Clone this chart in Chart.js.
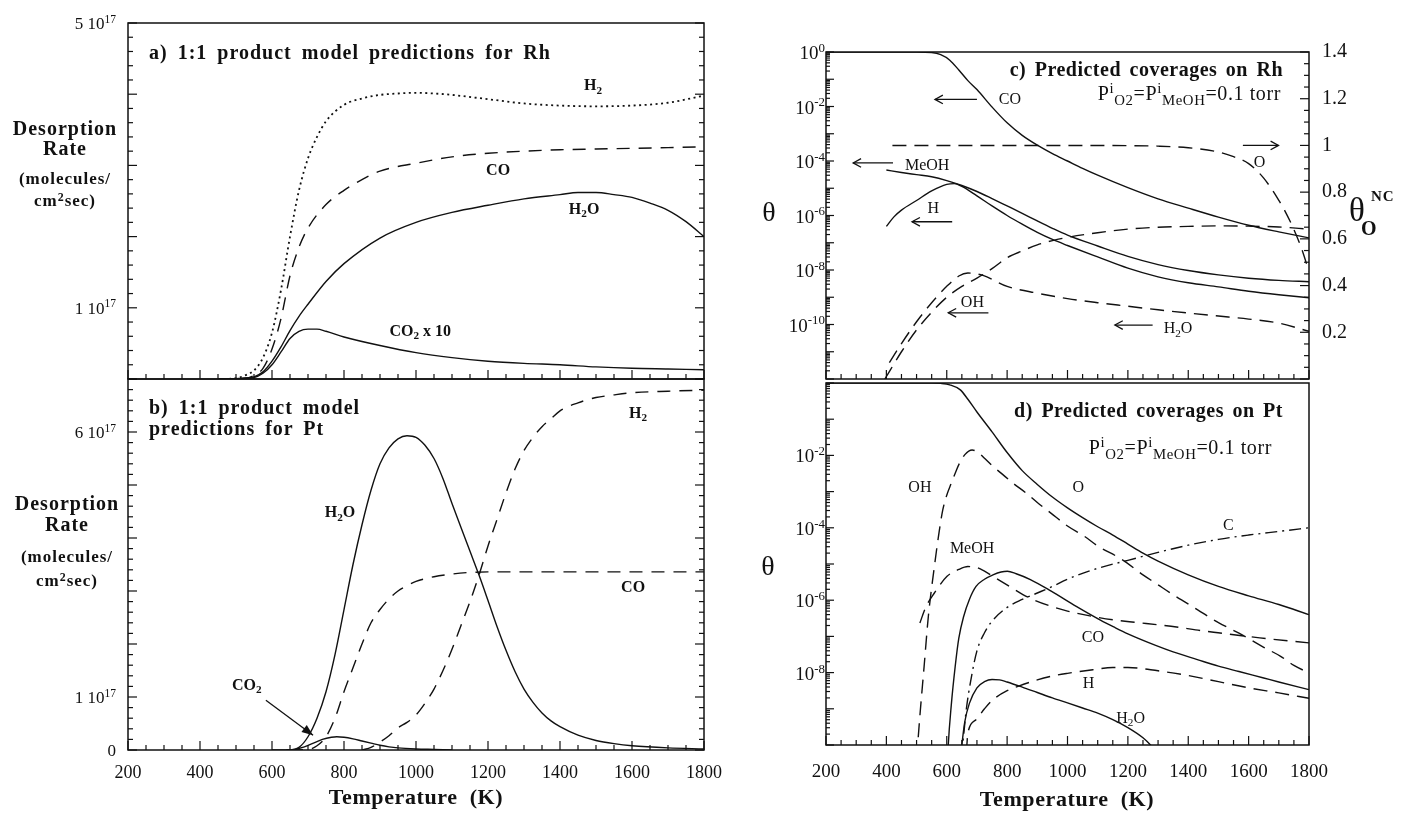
<!DOCTYPE html>
<html><head><meta charset="utf-8">
<script src="https://cdn.jsdelivr.net/npm/chart.js@4.4.0/dist/chart.umd.min.js"></script>
<style>
html,body{margin:0;padding:0;background:#fff;}
body{width:1412px;height:813px;position:relative;overflow:hidden;font-family:"Liberation Serif","Times New Roman",serif;color:#111;}
.wrap{position:absolute;}
.wrap canvas{position:absolute;left:0;top:0;}
.t{position:absolute;white-space:nowrap;line-height:1;}
.c{transform:translate(-50%,-50%);}
.b{font-weight:bold;}
.lbl{position:absolute;white-space:nowrap;line-height:1;transform:translate(-50%,-50%);}
.tk{position:absolute;white-space:nowrap;line-height:1;}
.lb{font-weight:bold;font-size:16px;}
.lr{font-size:16px;}
sub{font-size:70%;vertical-align:baseline;position:relative;top:0.32em;line-height:0;}
sup{font-size:70%;vertical-align:baseline;position:relative;top:-0.45em;line-height:0;}
.tk sup{font-size:68%;top:-0.55em;}
.ttl{font-weight:bold;font-size:20px;letter-spacing:1px;word-spacing:4px;}
.pt{font-size:20px;letter-spacing:0.6px;}
.pt sub,.pt sup{font-size:74%;}
.ax{font-weight:bold;}
</style></head>
<body>
<div class="wrap" style="left:0;top:0;width:760px;height:392px"><canvas id="cA" width="760" height="392"></canvas></div>
<div class="wrap" style="left:0;top:360px;width:760px;height:453px"><canvas id="cB" width="760" height="453"></canvas></div>
<div class="wrap" style="left:770px;top:0;width:642px;height:392px"><canvas id="cC" width="642" height="392"></canvas></div>
<div class="wrap" style="left:770px;top:365px;width:642px;height:448px"><canvas id="cD" width="642" height="448"></canvas></div>

<!-- left axis titles -->
<div class="t c ax" style="left:65px;top:128px;font-size:20px;letter-spacing:1px">Desorption</div>
<div class="t c ax" style="left:65px;top:148px;font-size:20px;letter-spacing:1px">Rate</div>
<div class="t c ax" style="left:65px;top:178px;font-size:17px;letter-spacing:1px">(molecules/</div>
<div class="t c ax" style="left:65px;top:200px;font-size:17px;letter-spacing:1px">cm<sup>2</sup>sec)</div>
<div class="t c ax" style="left:67px;top:503px;font-size:20px;letter-spacing:1px">Desorption</div>
<div class="t c ax" style="left:67px;top:524px;font-size:20px;letter-spacing:1px">Rate</div>
<div class="t c ax" style="left:67px;top:556px;font-size:17px;letter-spacing:1px">(molecules/</div>
<div class="t c ax" style="left:67px;top:580px;font-size:17px;letter-spacing:1px">cm<sup>2</sup>sec)</div>
<div class="t c ax" style="left:416px;top:797px;font-size:22px;letter-spacing:0.6px;word-spacing:6px">Temperature (K)</div>
<div class="t c ax" style="left:1067px;top:799px;font-size:22px;letter-spacing:0.6px;word-spacing:6px">Temperature (K)</div>

<!-- panel titles -->
<div class="t ttl" style="left:149px;top:42px">a) 1:1 product model predictions for Rh</div>
<div class="t ttl" style="left:149px;top:397px;line-height:21px">b) 1:1 product model<br>predictions for Pt</div>
<div class="t ttl" style="right:129px;top:59px;letter-spacing:0.5px;word-spacing:3px">c) Predicted coverages on Rh</div>
<div class="t ttl" style="right:129px;top:400px;letter-spacing:0.5px;word-spacing:3px">d) Predicted coverages on Pt</div>
<div class="t pt" style="right:131px;top:83px">P<sup>i</sup><sub>O2</sub>=P<sup>i</sup><sub>MeOH</sub>=0.1 torr</div>
<div class="t pt" style="right:140px;top:437px">P<sup>i</sup><sub>O2</sub>=P<sup>i</sup><sub>MeOH</sub>=0.1 torr</div>

<!-- theta labels -->
<div class="t c" style="left:769px;top:212px;font-size:28px">θ</div>
<div class="t c" style="left:768px;top:566px;font-size:28px">θ</div>
<div class="t" style="left:1349px;top:194px;font-size:33px">θ</div>
<div class="t b" style="left:1361px;top:218px;font-size:20px">O</div>
<div class="t b" style="left:1371px;top:189px;font-size:15px;letter-spacing:1px">NC</div>

<script>
// ===================== DATA =====================
// Panel a (Rh) — desorption rate in units of 1e17 molecules/cm2 s
const aH2_T  = [450, 500, 525, 550, 575, 600, 625, 650, 675, 700, 725, 750, 800, 850, 900, 950, 1000, 1050, 1100, 1200, 1300, 1400, 1500, 1600, 1700, 1800];
const aH2_V  = [0, 0.01, 0.05, 0.12, 0.3, 0.65, 1.25, 2.0, 2.65, 3.1, 3.4, 3.62, 3.85, 3.94, 3.99, 4.01, 4.02, 4.01, 3.99, 3.93, 3.87, 3.84, 3.83, 3.84, 3.88, 3.98];
const aCO_T  = [450, 525, 550, 575, 600, 625, 650, 675, 700, 750, 800, 850, 900, 1000, 1100, 1200, 1300, 1400, 1500, 1600, 1700, 1800];
const aCO_V  = [0, 0.01, 0.05, 0.15, 0.42, 0.85, 1.45, 1.85, 2.12, 2.45, 2.65, 2.8, 2.92, 3.03, 3.12, 3.17, 3.2, 3.22, 3.23, 3.24, 3.25, 3.26];
const aH2O_T = [450, 525, 550, 575, 600, 625, 650, 675, 700, 750, 800, 900, 1000, 1100, 1200, 1300, 1400, 1450, 1500, 1550, 1600, 1650, 1700, 1750, 1800];
const aH2O_V = [0, 0.01, 0.03, 0.1, 0.25, 0.45, 0.68, 0.88, 1.05, 1.37, 1.62, 1.98, 2.2, 2.34, 2.44, 2.53, 2.59, 2.62, 2.62, 2.59, 2.55, 2.47, 2.37, 2.21, 2.0];
const aCO2x10_T = [450, 525, 550, 575, 600, 625, 650, 675, 700, 725, 750, 800, 900, 1000, 1100, 1200, 1300, 1400, 1500, 1600, 1700, 1800];
const aCO2x10_V = [0, 0.01, 0.02, 0.08, 0.2, 0.38, 0.57, 0.67, 0.7, 0.7, 0.67, 0.59, 0.47, 0.37, 0.3, 0.25, 0.22, 0.2, 0.17, 0.15, 0.14, 0.13];

// Panel b (Pt) — units of 1e17
const bH2O_T = [600, 650, 675, 700, 725, 750, 775, 800, 825, 850, 875, 900, 925, 950, 975, 1000, 1025, 1050, 1075, 1100, 1125, 1150, 1175, 1200, 1225, 1250, 1275, 1300, 1325, 1350, 1375, 1400, 1450, 1500, 1550, 1600, 1700, 1800];
const bH2O_V = [0, 0, 0.05, 0.25, 0.6, 1.1, 1.8, 2.65, 3.5, 4.25, 4.9, 5.4, 5.7, 5.87, 5.93, 5.9, 5.75, 5.5, 5.12, 4.65, 4.2, 3.75, 3.3, 2.82, 2.33, 1.88, 1.48, 1.15, 0.9, 0.7, 0.55, 0.44, 0.28, 0.18, 0.12, 0.08, 0.04, 0.02];
const bCO_T  = [650, 700, 725, 750, 775, 800, 825, 850, 875, 900, 925, 950, 975, 1000, 1050, 1100, 1150, 1200, 1400, 1600, 1800];
const bCO_V  = [0, 0.01, 0.08, 0.25, 0.6, 1.1, 1.55, 2.0, 2.4, 2.65, 2.85, 3.0, 3.1, 3.18, 3.27, 3.32, 3.35, 3.36, 3.36, 3.36, 3.36];
const bH2_T  = [850, 875, 900, 925, 950, 975, 1000, 1025, 1050, 1075, 1100, 1125, 1150, 1175, 1200, 1225, 1250, 1275, 1300, 1325, 1350, 1375, 1400, 1450, 1500, 1550, 1600, 1700, 1800];
const bH2_V  = [0, 0.05, 0.15, 0.27, 0.42, 0.52, 0.66, 0.88, 1.15, 1.5, 1.9, 2.35, 2.8, 3.3, 3.85, 4.35, 4.85, 5.3, 5.65, 5.9, 6.1, 6.25, 6.4, 6.55, 6.65, 6.7, 6.74, 6.77, 6.79];
const bCO2_T = [640, 660, 690, 715, 740, 765, 780, 800, 825, 850, 875, 900, 925, 950, 1000, 1050, 1100];
const bCO2_V = [0, 0.01, 0.06, 0.13, 0.2, 0.24, 0.25, 0.24, 0.21, 0.17, 0.13, 0.09, 0.06, 0.04, 0.02, 0.01, 0];

// Panel c (Rh) — coverages (left, log) and theta_O^NC (right, linear)
const cCO_T   = [200, 500, 550, 580, 610, 640, 670, 700, 750, 800, 850, 900, 950, 1000, 1050, 1100, 1200, 1300, 1400, 1500, 1600, 1700, 1800];
const cCO_V   = [1, 1, 0.955, 0.794, 0.501, 0.219, 0.0891, 0.0417, 9.55e-3, 2.51e-3, 8.71e-4, 3.80e-4, 1.86e-4, 1e-4, 5.37e-5, 3.02e-5, 1.05e-5, 4.07e-6, 1.86e-6, 8.71e-7, 4.37e-7, 2.51e-7, 1.51e-7];
const cMeOH_T = [400, 450, 500, 550, 600, 650, 700, 750, 800, 850, 900, 950, 1000, 1100, 1200, 1300, 1400, 1500, 1600, 1700, 1800];
const cMeOH_V = [4.68e-5, 3.80e-5, 3.16e-5, 2.63e-5, 1.91e-5, 1.26e-5, 7.59e-6, 4.17e-6, 2.24e-6, 1.20e-6, 6.31e-7, 3.39e-7, 1.91e-7, 7.59e-8, 3.16e-8, 1.58e-8, 9.55e-9, 6.61e-9, 5.01e-9, 4.17e-9, 3.72e-9];
const cH_T    = [400, 425, 450, 500, 550, 600, 625, 650, 700, 750, 800, 850, 900, 950, 1000, 1100, 1200, 1300, 1400, 1500, 1600, 1700, 1800];
const cH_V    = [3.98e-7, 8.91e-7, 1.58e-6, 3.55e-6, 7.94e-6, 1.38e-5, 1.48e-5, 1.17e-5, 5.25e-6, 2.24e-6, 1e-6, 4.79e-7, 2.40e-7, 1.32e-7, 7.94e-8, 3.02e-8, 1.17e-8, 5.62e-9, 3.39e-9, 2.40e-9, 1.66e-9, 1.23e-9, 9.55e-10];
const cH2O_T  = [410, 450, 500, 550, 600, 640, 670, 720, 800, 900, 1000, 1100, 1200, 1300, 1400, 1500, 1600, 1700, 1800];
const cH2O_V  = [3.98e-12, 2.0e-11, 1.26e-10, 6.31e-10, 2.51e-9, 6.03e-9, 7.76e-9, 6.31e-9, 2.51e-9, 1.41e-9, 8.91e-10, 6.31e-10, 4.68e-10, 3.47e-10, 2.63e-10, 2.04e-10, 1.58e-10, 1.12e-10, 5.62e-11];
const cOH_T   = [395, 450, 500, 550, 600, 650, 700, 750, 800, 850, 900, 950, 1000, 1100, 1200, 1300, 1400, 1500, 1600, 1700, 1800];
const cOH_V   = [1e-12, 1e-11, 6.31e-11, 2.82e-10, 1e-9, 2.51e-9, 5.01e-9, 1.12e-8, 2.82e-8, 5.01e-8, 8.32e-8, 1.20e-7, 1.58e-7, 2.34e-7, 3.16e-7, 3.72e-7, 3.98e-7, 4.17e-7, 4.07e-7, 3.80e-7, 3.16e-7];
const cO_T    = [420, 600, 800, 1000, 1200, 1300, 1400, 1500, 1550, 1600, 1650, 1700, 1720, 1750, 1775, 1800];
const cO_V    = [1.0, 1.0, 1.0, 1.0, 0.999, 0.997, 0.99, 0.972, 0.952, 0.922, 0.86, 0.765, 0.72, 0.64, 0.56, 0.46];

// Panel d (Pt) — coverages (log)
const dO_T    = [200, 550, 580, 610, 645, 670, 700, 750, 800, 850, 900, 950, 1000, 1050, 1100, 1150, 1200, 1250, 1300, 1400, 1500, 1600, 1700, 1800];
const dO_V    = [1, 1, 0.977, 0.891, 0.646, 0.355, 0.158, 0.0447, 0.0120, 3.80e-3, 1.58e-3, 7.08e-4, 3.55e-4, 1.91e-4, 1.07e-4, 6.31e-5, 3.55e-5, 2.0e-5, 1.20e-5, 5.01e-6, 2.40e-6, 1.32e-6, 7.59e-7, 3.98e-7];
const dOH_T   = [495, 510, 525, 539, 559, 575, 587, 600, 615, 630, 642, 660, 684, 705, 725, 750, 780, 820, 863, 900, 946, 1000, 1057, 1100, 1181, 1250, 1292, 1350, 1430, 1500, 1568, 1650, 1706, 1750, 1800];
const dOH_V   = [1e-11, 5.01e-10, 1.48e-8, 3.55e-7, 8.51e-6, 7.94e-5, 3.16e-4, 7.94e-4, 1.70e-3, 3.55e-3, 6.03e-3, 1.05e-2, 1.41e-2, 1.20e-2, 8.32e-3, 5.25e-3, 3.24e-3, 1.70e-3, 9.12e-4, 5.01e-4, 2.51e-4, 1.12e-4, 5.75e-5, 3.16e-5, 1.32e-5, 5.01e-6, 2.95e-6, 1.41e-6, 5.50e-7, 2.40e-7, 1.23e-7, 5.01e-8, 2.82e-8, 1.58e-8, 9.77e-9];
const dMeOH_T = [511, 530, 559, 601, 640, 670, 700, 725, 760, 808, 870, 946, 1000, 1084, 1150, 1222, 1300, 1361, 1441, 1499, 1637, 1800];
const dMeOH_V = [2.34e-7, 6.31e-7, 1.58e-6, 4.57e-6, 7.08e-6, 8.51e-6, 7.94e-6, 6.31e-6, 4.17e-6, 2.40e-6, 1.20e-6, 6.76e-7, 5.01e-7, 3.55e-7, 2.88e-7, 2.45e-7, 2.09e-7, 1.82e-7, 1.45e-7, 1.26e-7, 9.12e-8, 6.61e-8];
const dCO_T   = [600, 605, 615, 628, 640, 656, 675, 697, 725, 753, 780, 801, 830, 877, 946, 1029, 1109, 1153, 1200, 1292, 1350, 1430, 1500, 1568, 1650, 1700, 1800];
const dCO_V   = [1e-11, 1e-10, 1.26e-9, 1.48e-8, 8.91e-8, 3.55e-7, 1.05e-6, 2.40e-6, 3.80e-6, 5.01e-6, 6.03e-6, 6.31e-6, 5.37e-6, 3.72e-6, 1.78e-6, 6.76e-7, 2.82e-7, 1.82e-7, 1.17e-7, 5.62e-8, 3.72e-8, 2.29e-8, 1.51e-8, 1.07e-8, 7.08e-9, 5.50e-9, 3.39e-9];
const dH_T    = [665, 670, 697, 725, 753, 800, 836, 900, 946, 1000, 1084, 1150, 1200, 1300, 1400, 1500, 1600, 1700, 1800];
const dH_V    = [6.31e-11, 2.14e-10, 5.01e-10, 1e-9, 1.78e-9, 3.16e-9, 4.17e-9, 6.31e-9, 7.94e-9, 9.55e-9, 1.20e-8, 1.38e-8, 1.38e-8, 1.12e-8, 8.32e-9, 5.62e-9, 3.80e-9, 2.75e-9, 1.95e-9];
const dH2O_T  = [638, 650, 660, 675, 700, 725, 750, 775, 800, 850, 900, 950, 1000, 1050, 1100, 1150, 1200, 1250, 1275, 1290];
const dH2O_V  = [1e-11, 1e-10, 4.47e-10, 1.41e-9, 3.80e-9, 5.62e-9, 6.46e-9, 6.31e-9, 5.50e-9, 3.98e-9, 2.82e-9, 2.0e-9, 1.45e-9, 1.05e-9, 7.59e-10, 5.01e-10, 3.02e-10, 1.58e-10, 1e-10, 7.08e-11];
const dC_T    = [640, 645, 655, 665, 680, 700, 725, 750, 800, 850, 900, 950, 1000, 1100, 1200, 1300, 1400, 1500, 1600, 1700, 1800];
const dC_V    = [1e-11, 3.16e-11, 1.58e-10, 1e-9, 6.31e-9, 3.98e-8, 1.26e-7, 2.63e-7, 6.31e-7, 1.05e-6, 1.58e-6, 2.40e-6, 3.80e-6, 7.59e-6, 1.26e-5, 2.09e-5, 3.31e-5, 4.79e-5, 6.31e-5, 7.94e-5, 1e-4];

// Tick labels
const tempTickVals   = [200, 400, 600, 800, 1000, 1200, 1400, 1600, 1800];
const tempTickLabels = ['200', '400', '600', '800', '1000', '1200', '1400', '1600', '1800'];
const aYTickVals   = [1, 5];
const aYTickLabels = ['1 10<sup>17</sup>', '5 10<sup>17</sup>'];
const bYTickVals   = [0, 1, 6];
const bYTickLabels = ['0', '1 10<sup>17</sup>', '6 10<sup>17</sup>'];
const cYTickVals   = [1, 1e-2, 1e-4, 1e-6, 1e-8, 1e-10];
const cYTickLabels = ['10<sup>0</sup>', '10<sup>-2</sup>', '10<sup>-4</sup>', '10<sup>-6</sup>', '10<sup>-8</sup>', '10<sup>-10</sup>'];
const cY2TickVals   = [0.2, 0.4, 0.6, 0.8, 1, 1.2, 1.4];
const cY2TickLabels = ['0.2', '0.4', '0.6', '0.8', '1', '1.2', '1.4'];
const dYTickVals   = [1e-2, 1e-4, 1e-6, 1e-8];
const dYTickLabels = ['10<sup>-2</sup>', '10<sup>-4</sup>', '10<sup>-6</sup>', '10<sup>-8</sup>'];

// ===================== HELPERS =====================
const FONT = '"Liberation Serif", "Times New Roman", serif';
const INK = '#111';
const dashes = { solid: [], dash: [13, 9], dot: [2, 3.5], rdash: [14, 8], dashdot: [12, 5, 2, 5] };

function ds(T, V, style, axis) {
  return {
    data: T.map((t, i) => ({ x: t, y: V[i] })),
    borderColor: INK, borderWidth: style === 'dot' ? 1.8 : 1.4,
    borderDash: dashes[style], pointRadius: 0, fill: false,
    cubicInterpolationMode: 'monotone', yAxisID: axis || 'y'
  };
}
function zeroPad(s) { s.paddingLeft = 0; s.paddingRight = 0; s.paddingTop = 0; s.paddingBottom = 0; }
function xScale(o) {
  return {
    type: 'linear', position: 'bottom', min: 200, max: 1800,
    grid: { display: false, drawTicks: false }, border: { display: false },
    ticks: { display: o.show, autoSkip: false, maxRotation: 0, minRotation: 0, padding: o.pad || 0,
      color: INK, font: { family: FONT, size: o.size || 18 },
      callback: (v, i) => tempTickLabels[i] },
    afterBuildTicks: s => { s.ticks = tempTickVals.map(v => ({ value: v })); },
    afterFit: s => { s.height = o.h; zeroPad(s); }
  };
}
// y scales: tick values come from the arrays; labels with superscripts are placed as HTML text at scale pixels
function yScale(o) {
  return {
    type: o.type || 'linear', position: o.pos || 'left', min: o.min, max: o.max,
    grid: { display: false, drawTicks: false }, border: { display: false },
    ticks: { display: !!o.canvasLabels, autoSkip: false, padding: o.pad || 0, color: INK,
      font: { family: FONT, size: o.size || 18 }, callback: (v, i) => (o.labels ? o.labels[i] : '') },
    afterBuildTicks: s => { s.ticks = o.vals.map(v => ({ value: v })); },
    afterFit: s => { s.width = o.w; zeroPad(s); }
  };
}
function linMarks(lo, n, step, every) {
  const vals = [], major = [];
  for (let i = 0; i <= n; i++) { vals.push(+(lo + i * step).toFixed(6)); major.push(i % every === 0); }
  return { vals, major };
}
function logMarks(loExp, hiExp) {
  const vals = [], major = [];
  for (let e = loExp; e < hiExp; e++) for (let k = 1; k <= 9; k++) { vals.push(k * Math.pow(10, e)); major.push(k === 1); }
  vals.push(Math.pow(10, hiExp)); major.push(true);
  return { vals, major };
}
const xMarks = linMarks(200, 32, 50, 4);

const extras = {};
const panelPlugin = {
  id: 'panelExtras',
  afterDatasetsDraw(chart) {
    const ex = extras[chart.canvas.id]; if (!ex) return;
    const ctx = chart.ctx, a = chart.chartArea;
    ctx.save();
    ctx.setLineDash([]);
    ctx.strokeStyle = INK; ctx.fillStyle = INK;
    ctx.lineWidth = 1.5;
    ctx.strokeRect(a.left, a.top, a.right - a.left, a.bottom - a.top);
    ctx.lineWidth = 1.2;
    ex.marks.forEach(m => {
      const sc = chart.scales[m.scale];
      m.set.vals.forEach((v, i) => {
        const len = m.set.major[i] ? m.maj : m.min;
        const p = sc.getPixelForValue(v);
        ctx.beginPath();
        if (m.side === 'left') { ctx.moveTo(a.left, p); ctx.lineTo(a.left + len, p); }
        else if (m.side === 'right') { ctx.moveTo(a.right, p); ctx.lineTo(a.right - len, p); }
        else { ctx.moveTo(p, a.bottom); ctx.lineTo(p, a.bottom - len); }
        ctx.stroke();
      });
    });
    (ex.arrows || []).forEach(ar => {
      const sx = chart.scales.x, sy = chart.scales[ar.axis || 'y'];
      const x1 = sx.getPixelForValue(ar.x1), y1 = sy.getPixelForValue(ar.y1);
      const x2 = sx.getPixelForValue(ar.x2), y2 = sy.getPixelForValue(ar.y2);
      const ang = Math.atan2(y2 - y1, x2 - x1);
      ctx.lineWidth = 1.3;
      ctx.beginPath(); ctx.moveTo(x1, y1); ctx.lineTo(x2, y2); ctx.stroke();
      const L = ar.filled ? 12 : 9, w = ar.filled ? 0.38 : 0.5;
      const p1 = [x2 - L * Math.cos(ang - w), y2 - L * Math.sin(ang - w)];
      const p2 = [x2 - L * Math.cos(ang + w), y2 - L * Math.sin(ang + w)];
      ctx.beginPath();
      if (ar.filled) { ctx.moveTo(x2, y2); ctx.lineTo(p1[0], p1[1]); ctx.lineTo(p2[0], p2[1]); ctx.closePath(); ctx.fill(); }
      else { ctx.moveTo(p1[0], p1[1]); ctx.lineTo(x2, y2); ctx.lineTo(p2[0], p2[1]); ctx.stroke(); }
    });
    ctx.restore();
  },
  afterDraw(chart) {
    const ex = extras[chart.canvas.id]; if (!ex) return;
    const wrap = chart.canvas.parentNode, a = chart.chartArea;
    (ex.labels || []).forEach(l => {
      if (!l.el) { l.el = document.createElement('div'); l.el.className = 'lbl ' + ex.cls; l.el.innerHTML = l.html; wrap.appendChild(l.el); }
      l.el.style.left = chart.scales.x.getPixelForValue(l.x) + 'px';
      l.el.style.top = chart.scales[l.axis || 'y'].getPixelForValue(l.y) + 'px';
    });
    (ex.yTicks || []).forEach(t => {
      const sc = chart.scales[t.axis];
      t.els = t.els || [];
      t.vals.forEach((v, i) => {
        let el = t.els[i];
        if (!el) { el = document.createElement('div'); el.className = 'tk'; el.style.fontSize = t.size + 'px'; el.innerHTML = t.labels[i]; wrap.appendChild(el); t.els[i] = el; }
        el.style.top = sc.getPixelForValue(v) + 'px';
        el.style.left = (a.left - t.pad) + 'px';
        el.style.transform = 'translate(-100%,-50%)';
      });
    });
  }
};
Chart.register(panelPlugin);

function baseOpts(layoutPad, scales) {
  return {
    responsive: false, animation: false, devicePixelRatio: 1, events: [],
    layout: { padding: layoutPad, autoPadding: false },
    plugins: { legend: { display: false }, tooltip: { enabled: false } },
    scales
  };
}

// ===================== PANEL EXTRAS =====================
extras.cA = {
  cls: 'lb',
  marks: [
    { scale: 'y', side: 'left', set: linMarks(0, 25, 0.2, 5), maj: 9, min: 5 },
    { scale: 'y', side: 'right', set: linMarks(0, 25, 0.2, 5), maj: 9, min: 5 },
    { scale: 'x', side: 'bottom', set: xMarks, maj: 9, min: 5 }
  ],
  yTicks: [ { axis: 'y', vals: aYTickVals, labels: aYTickLabels, size: 17, pad: 12 } ],
  labels: [
    { x: 1492, y: 4.13, html: 'H<sub>2</sub>' },
    { x: 1228, y: 2.93, html: 'CO' },
    { x: 1467, y: 2.39, html: 'H<sub>2</sub>O' },
    { x: 1012, y: 0.68, html: 'CO<sub>2</sub> x 10' }
  ]
};
extras.cB = {
  cls: 'lb',
  marks: [
    { scale: 'y', side: 'left', set: linMarks(0, 35, 0.2, 5), maj: 9, min: 5 },
    { scale: 'y', side: 'right', set: linMarks(0, 35, 0.2, 5), maj: 9, min: 5 },
    { scale: 'x', side: 'bottom', set: xMarks, maj: 9, min: 5 }
  ],
  yTicks: [ { axis: 'y', vals: bYTickVals, labels: bYTickLabels, size: 17, pad: 12 } ],
  arrows: [ { x1: 583, y1: 0.94, x2: 714, y2: 0.28, filled: true } ],
  labels: [
    { x: 789, y: 4.49, html: 'H<sub>2</sub>O' },
    { x: 1603, y: 3.08, html: 'CO' },
    { x: 1617, y: 6.36, html: 'H<sub>2</sub>' },
    { x: 530, y: 1.23, html: 'CO<sub>2</sub>' }
  ]
};
extras.cC = {
  cls: 'lr',
  marks: [
    { scale: 'y', side: 'left', set: logMarks(-12, 0), maj: 8, min: 4 },
    { scale: 'y2', side: 'right', set: linMarks(0, 28, 0.05, 4), maj: 9, min: 5 },
    { scale: 'x', side: 'bottom', set: xMarks, maj: 9, min: 5 }
  ],
  yTicks: [ { axis: 'y', vals: cYTickVals, labels: cYTickLabels, size: 19, pad: 1 } ],
  arrows: [
    { x1: 700, y1: 1.82e-2, x2: 561, y2: 1.82e-2 },
    { x1: 1581, y1: 1.0, x2: 1699, y2: 1.0, axis: 'y2' },
    { x1: 422, y1: 8.51e-5, x2: 290, y2: 8.51e-5 },
    { x1: 618, y1: 5.89e-7, x2: 485, y2: 5.89e-7 },
    { x1: 738, y1: 2.69e-10, x2: 605, y2: 2.69e-10 },
    { x1: 1282, y1: 9.55e-11, x2: 1157, y2: 9.55e-11 }
  ],
  labels: [
    { x: 809, y: 1.82e-2, html: 'CO' },
    { x: 1636, y: 0.93, axis: 'y2', html: 'O' },
    { x: 535, y: 7.08e-5, html: 'MeOH' },
    { x: 555, y: 1.82e-6, html: 'H' },
    { x: 685, y: 6.76e-10, html: 'OH' },
    { x: 1366, y: 7.24e-11, html: 'H<sub>2</sub>O' }
  ]
};
extras.cD = {
  cls: 'lr',
  marks: [
    { scale: 'y', side: 'left', set: logMarks(-10, 0), maj: 8, min: 4 },
    { scale: 'x', side: 'bottom', set: xMarks, maj: 9, min: 5 }
  ],
  yTicks: [ { axis: 'y', vals: dYTickVals, labels: dYTickLabels, size: 19, pad: 1 } ],
  labels: [
    { x: 511, y: 1.38e-3, html: 'OH' },
    { x: 1036, y: 1.38e-3, html: 'O' },
    { x: 1533, y: 1.20e-4, html: 'C' },
    { x: 684, y: 2.75e-5, html: 'MeOH' },
    { x: 1084, y: 9.55e-8, html: 'CO' },
    { x: 1070, y: 5.25e-9, html: 'H' },
    { x: 1209, y: 5.62e-10, html: 'H<sub>2</sub>O' }
  ]
};

// ===================== CHARTS =====================
new Chart(document.getElementById('cA'), {
  type: 'line',
  data: { datasets: [
    ds(aH2_T, aH2_V, 'dot'), ds(aCO_T, aCO_V, 'dash'),
    ds(aH2O_T, aH2O_V, 'solid'), ds(aCO2x10_T, aCO2x10_V, 'solid')
  ] },
  options: baseOpts({ top: 23, right: 56, left: 0, bottom: 0 }, {
    x: xScale({ show: false, h: 13 }),
    y: yScale({ min: 0, max: 5, w: 128, vals: aYTickVals })
  })
});
new Chart(document.getElementById('cB'), {
  type: 'line',
  data: { datasets: [
    ds(bH2O_T, bH2O_V, 'solid'), ds(bCO_T, bCO_V, 'dash'),
    ds(bH2_T, bH2_V, 'dash'), ds(bCO2_T, bCO2_V, 'solid')
  ] },
  options: baseOpts({ top: 19, right: 56, left: 0, bottom: 0 }, {
    x: xScale({ show: true, h: 63, pad: 12, size: 18 }),
    y: yScale({ min: 0, max: 7, w: 128, vals: bYTickVals })
  })
});
new Chart(document.getElementById('cC'), {
  type: 'line',
  data: { datasets: [
    ds(cCO_T, cCO_V, 'solid'), ds(cMeOH_T, cMeOH_V, 'solid'), ds(cH_T, cH_V, 'solid'),
    ds(cH2O_T, cH2O_V, 'rdash'), ds(cOH_T, cOH_V, 'rdash'), ds(cO_T, cO_V, 'rdash', 'y2')
  ] },
  options: baseOpts({ top: 52, right: 0, left: 0, bottom: 0 }, {
    x: xScale({ show: false, h: 13 }),
    y: yScale({ type: 'logarithmic', min: 1e-12, max: 1, w: 56, vals: cYTickVals }),
    y2: yScale({ pos: 'right', min: 0, max: 1.4, w: 103, vals: cY2TickVals, labels: cY2TickLabels, canvasLabels: true, size: 20, pad: 13 })
  })
});
new Chart(document.getElementById('cD'), {
  type: 'line',
  data: { datasets: [
    ds(dO_T, dO_V, 'solid'), ds(dOH_T, dOH_V, 'rdash'), ds(dMeOH_T, dMeOH_V, 'rdash'),
    ds(dCO_T, dCO_V, 'solid'), ds(dH_T, dH_V, 'rdash'), ds(dH2O_T, dH2O_V, 'solid'),
    ds(dC_T, dC_V, 'dashdot')
  ] },
  options: baseOpts({ top: 18, right: 103, left: 0, bottom: 0 }, {
    x: xScale({ show: true, h: 68, pad: 16, size: 19 }),
    y: yScale({ type: 'logarithmic', min: 1e-10, max: 1, w: 56, vals: dYTickVals })
  })
});
</script>
</body></html>
